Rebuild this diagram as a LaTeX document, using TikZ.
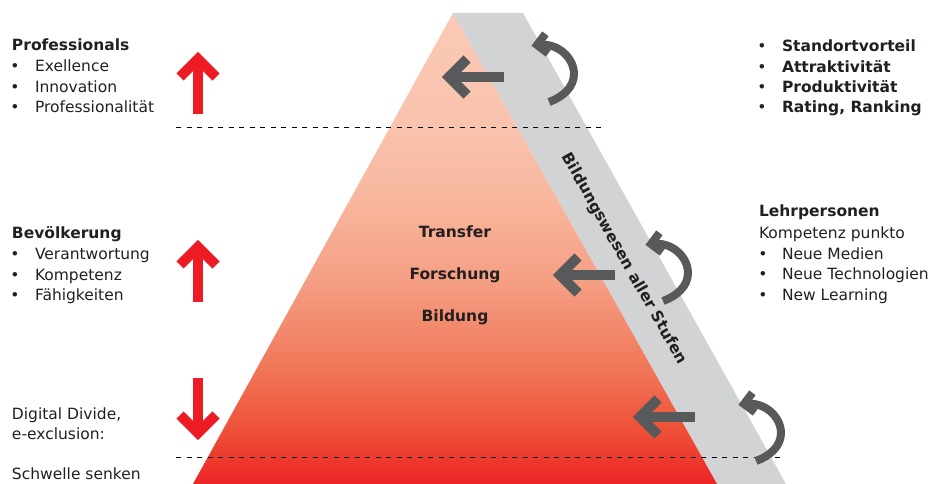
\documentclass[tikz,border=0pt]{standalone}
\usepackage{fontspec}
\setmainfont{DejaVu Sans}
\usetikzlibrary{calc}
\definecolor{arrred}{HTML}{ED1C24}
\definecolor{arrgray}{HTML}{58595B}
\definecolor{bandgray}{HTML}{D1D3D4}
\definecolor{inkc}{HTML}{231F20}
\definecolor{s0}{HTML}{EC2525}
\definecolor{s1}{HTML}{EE5038}
\definecolor{s2}{HTML}{F07658}
\definecolor{s3}{HTML}{F59F84}
\definecolor{s4}{HTML}{F8B69D}
\definecolor{s5}{HTML}{F9C3AD}
\definecolor{s6}{HTML}{FAC9B5}
\pgfdeclareverticalshading{pyrshade}{100bp}{color(0bp)=(s0); color(25bp)=(s0); color(30.73bp)=(s1); color(37.1bp)=(s2); color(46.66bp)=(s3); color(55.15bp)=(s4); color(62.9bp)=(s5); color(75bp)=(s6); color(100bp)=(s6)}
\newcommand\RedUp[3]{%
  \draw[redstroke] (#1,#3) -- (#1,#2+7);
  \draw[redstroke] (#1-18,#2+25) -- (#1,#2+7) -- (#1+18,#2+25);}
\newcommand\RedDown[3]{%
  \draw[redstroke] (#1,#3) -- (#1,#2-7);
  \draw[redstroke] (#1-18,#2-25) -- (#1,#2-7) -- (#1+18,#2-25);}
\newcommand\GrayLeft[3]{%
  \draw[graystroke] (#3,#2) -- (#1+7,#2);
  \draw[graystroke] (#1+25,#2-18) -- (#1+7,#2) -- (#1+25,#2+18);}
\newcommand\CurvArr[2]{%
  \draw[curvstroke] (#1-25,#2+28) .. controls (#1-11,#2+23) and (#1,#2+13) .. (#1,#2)
     .. controls (#1,#2-16) and (#1-16,#2-32) .. (#1-37,#2-29);
  \draw[curvstroke] ($(#1-37,#2-29)+(37:14)$) -- (#1-37,#2-29) -- ($(#1-37,#2-29)+(-53:14)$);}
\begin{document}
\begin{tikzpicture}[x=1pt,y=-1pt,
  every node/.style={inner sep=0pt,outer sep=0pt,text=inkc,font=\fontsize{15.5}{19}\selectfont},
  txt/.style={anchor=base west},
  btxt/.style={anchor=base west,font=\fontsize{15.5}{19}\selectfont\bfseries},
  ctxt/.style={anchor=base,font=\fontsize{15.5}{19}\selectfont\bfseries},
  bul/.style={anchor=base},
  redstroke/.style={draw=arrred,line width=10pt,miter limit=10},
  graystroke/.style={draw=arrgray,line width=10pt,miter limit=10},
  curvstroke/.style={draw=arrgray,line width=8pt,miter limit=10},
  dashln/.style={draw=black,line width=0.9pt,dash pattern=on 5pt off 5.5pt}]
\useasboundingbox (0,0) rectangle (935,484);
% band and pyramid
\fill[bandgray] (453,13) -- (523,13) -- (786,484) -- (717,484) -- cycle;
\shade[shading=pyrshade] (453,13) -- (717,484) -- (193,484) -- cycle;
% dashed separators
\coordinate (d1a) at (176,127); \coordinate (d1b) at (603,127);
\coordinate (d2a) at (176,457); \coordinate (d2b) at (784,457);
\draw[dashln] (d1a) -- (d1b);
\draw[dashln] (d2a) -- (d2b);
% red arrows
\RedUp{198}{52}{114}
\RedUp{198}{240}{302}
\RedDown{198}{440}{378}
% gray arrows
\GrayLeft{442}{77}{504}
\GrayLeft{553}{275}{615}
\GrayLeft{633}{417}{695}
\CurvArr{574}{74}
\CurvArr{688}{273}
\CurvArr{781}{433}
% left texts
\node[btxt] (prof) at (12,51) {Professionals};
\node[bul] (pb1) at (15,72) {\textbullet}; \node[txt] (pt1) at (35,72) {Exellence};
\node[bul] (pb2) at (15,92.5) {\textbullet}; \node[txt] (pt2) at (35,92.5) {Innovation};
\node[bul] (pb3) at (15,113) {\textbullet}; \node[txt] (pt3) at (35,113) {Professionalität};
\node[btxt] (bev) at (12,238) {Bevölkerung};
\node[bul] (bb1) at (15,259.5) {\textbullet}; \node[txt] (bt1) at (35,259.5) {Verantwortung};
\node[bul] (bb2) at (15,280) {\textbullet}; \node[txt] (bt2) at (35,280) {Kompetenz};
\node[bul] (bb3) at (15,300.5) {\textbullet}; \node[txt] (bt3) at (35,300.5) {Fähigkeiten};
\node[txt] (dd1) at (12,419) {Digital Divide,};
\node[txt] (dd2) at (12,439) {e-exclusion:};
\node[txt] (dd3) at (12,479) {Schwelle senken};
% right texts
\node[bul] (rb1) at (762,52) {\textbullet}; \node[btxt] (rt1) at (782,52) {Standortvorteil};
\node[bul] (rb2) at (762,72.5) {\textbullet}; \node[btxt] (rt2) at (782,72.5) {Attraktivität};
\node[bul] (rb3) at (762,93) {\textbullet}; \node[btxt] (rt3) at (782,93) {Produktivität};
\node[bul] (rb4) at (762,113) {\textbullet}; \node[btxt] (rt4) at (782,113) {Rating, Ranking};
\node[btxt] (lehr) at (759,217) {Lehrpersonen};
\node[txt] (komp) at (759,238) {Kompetenz punkto};
\node[bul] (lb1) at (763,259) {\textbullet}; \node[txt] (lt1) at (782,259) {Neue Medien};
\node[bul] (lb2) at (763,279.5) {\textbullet}; \node[txt] (lt2) at (782,279.5) {Neue Technologien};
\node[bul] (lb3) at (763,300) {\textbullet}; \node[txt] (lt3) at (782,300) {New Learning};
% pyramid labels
\node[ctxt] (transfer) at (455,237) {Transfer};
\node[ctxt] (forschung) at (455,279) {Forschung};
\node[ctxt] (bildung) at (455,321) {Bildung};
\node[font=\fontsize{15.5}{19}\selectfont\bfseries,rotate=-60.7] (stufen) at (624,259) {Bildungswesen aller Stufen};
\end{tikzpicture}
\end{document}
